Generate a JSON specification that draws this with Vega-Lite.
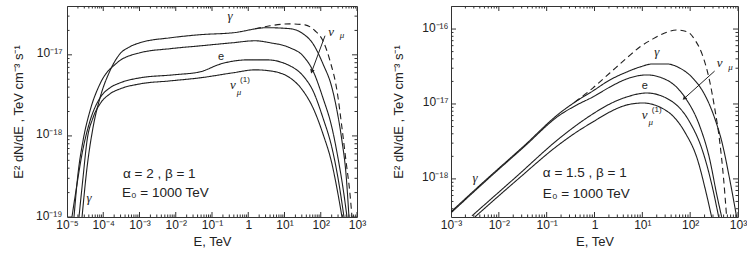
{
  "$schema": "https://vega.github.io/schema/vega-lite/v6.json",
  "background": "white",
  "padding": {"left": 11, "top": 5, "right": 0, "bottom": 0},
  "spacing": 94,
  "bounds": "flush",
  "config": {
    "view": {"stroke": "#333", "strokeWidth": 1},
    "axis": {"labelFont": "Liberation Sans", "titleFont": "Liberation Sans", "grid": false, "domain": false, "ticks": false, "labelColor": "#222", "titleColor": "#222", "titleFontWeight": "normal", "labelOverlap": false, "labelFlush": false}
  },
  "datasets": {
    "leftCurves": [
      {"series":"gamma","E":2.60e-5,"V":1e-19},{"series":"gamma","E":3.56e-5,"V":4.03e-19},{"series":"gamma","E":5.21e-5,"V":1.26e-18},{"series":"gamma","E":8.13e-5,"V":2.94e-18},{"series":"gamma","E":1.53e-4,"V":6.34e-18},{"series":"gamma","E":2.90e-4,"V":1.03e-17},{"series":"gamma","E":5.47e-4,"V":1.26e-17},{"series":"gamma","E":1.03e-3,"V":1.41e-17},{"series":"gamma","E":6.93e-3,"V":1.62e-17},{"series":"gamma","E":4.67e-2,"V":1.77e-17},{"series":"gamma","E":0.379,"V":1.87e-17},{"series":"gamma","E":3.29,"V":2.16e-17},{"series":"gamma","E":14.2,"V":2.10e-17},{"series":"gamma","E":32.4,"V":1.82e-17},{"series":"gamma","E":61.1,"V":1.37e-17},{"series":"gamma","E":115,"V":7.74e-18},{"series":"gamma","E":204,"V":3.92e-18},{"series":"gamma","E":281,"V":2.04e-18},{"series":"gamma","E":385,"V":8.67e-19},{"series":"gamma","E":497,"V":3.40e-19},{"series":"gamma","E":601,"V":1e-19},
      {"series":"numu","E":1.56e-5,"V":1e-19},{"series":"numu","E":2.01e-5,"V":3.40e-19},{"series":"numu","E":2.76e-5,"V":8.67e-19},{"series":"numu","E":4.31e-5,"V":2.04e-18},{"series":"numu","E":8.13e-5,"V":4.38e-18},{"series":"numu","E":2.39e-4,"V":7.96e-18},{"series":"numu","E":1.03e-3,"V":1.06e-17},{"series":"numu","E":6.93e-3,"V":1.19e-17},{"series":"numu","E":4.67e-2,"V":1.29e-17},{"series":"numu","E":0.379,"V":1.41e-17},{"series":"numu","E":1.53,"V":1.49e-17},{"series":"numu","E":3.98,"V":1.41e-17},{"series":"numu","E":14.2,"V":1.22e-17},{"series":"numu","E":32.4,"V":9.72e-18},{"series":"numu","E":61.1,"V":6.34e-18},{"series":"numu","E":115,"V":2.94e-18},{"series":"numu","E":204,"V":1.26e-18},{"series":"numu","E":299,"V":5.35e-19},{"series":"numu","E":411,"V":2.28e-19},{"series":"numu","E":530,"V":1e-19},
      {"series":"e","E":1.37e-5,"V":1e-19},{"series":"e","E":1.89e-5,"V":2.55e-19},{"series":"e","E":2.60e-5,"V":6.00e-19},{"series":"e","E":4.31e-5,"V":1.53e-18},{"series":"e","E":8.13e-5,"V":2.94e-18},{"series":"e","E":1.53e-4,"V":3.92e-18},{"series":"e","E":2.90e-4,"V":4.51e-18},{"series":"e","E":1.03e-3,"V":5.20e-18},{"series":"e","E":8.39e-3,"V":5.66e-18},{"series":"e","E":4.67e-2,"V":6.17e-18},{"series":"e","E":0.177,"V":7.74e-18},{"series":"e","E":1.0,"V":8.67e-18},{"series":"e","E":3.29,"V":8.67e-18},{"series":"e","E":14.2,"V":7.31e-18},{"series":"e","E":32.4,"V":5.51e-18},{"series":"e","E":61.1,"V":3.60e-18},{"series":"e","E":115,"V":1.67e-18},{"series":"e","E":204,"V":7.11e-19},{"series":"e","E":299,"V":3.03e-19},{"series":"e","E":438,"V":1e-19},
      {"series":"numu1","E":2.14e-5,"V":1e-19},{"series":"numu1","E":2.76e-5,"V":3.03e-19},{"series":"numu1","E":3.56e-5,"V":8.67e-19},{"series":"numu1","E":5.21e-5,"V":1.67e-18},{"series":"numu1","E":8.13e-5,"V":2.48e-18},{"series":"numu1","E":1.53e-4,"V":3.30e-18},{"series":"numu1","E":2.90e-4,"V":3.80e-18},{"series":"numu1","E":1.03e-3,"V":4.38e-18},{"series":"numu1","E":6.93e-3,"V":4.77e-18},{"series":"numu1","E":4.67e-2,"V":5.20e-18},{"series":"numu1","E":0.379,"V":6.00e-18},{"series":"numu1","E":1.53,"V":6.53e-18},{"series":"numu1","E":3.98,"V":6.34e-18},{"series":"numu1","E":14.2,"V":5.20e-18},{"series":"numu1","E":32.4,"V":3.60e-18},{"series":"numu1","E":61.1,"V":2.22e-18},{"series":"numu1","E":115,"V":1.06e-18},{"series":"numu1","E":204,"V":4.51e-19},{"series":"numu1","E":299,"V":1.92e-19},{"series":"numu1","E":385,"V":1e-19},
      {"series":"total","E":1.53,"V":2.10e-17},{"series":"total","E":3.98,"V":2.28e-17},{"series":"total","E":14.2,"V":2.41e-17},{"series":"total","E":36.8,"V":2.34e-17},{"series":"total","E":69.4,"V":1.98e-17},{"series":"total","E":115,"V":1.49e-17},{"series":"total","E":180,"V":8.43e-18},{"series":"total","E":281,"V":3.60e-18},{"series":"total","E":385,"V":1.26e-18},{"series":"total","E":497,"V":4.91e-19},{"series":"total","E":641,"V":1.92e-19},{"series":"total","E":728,"V":1e-19}
    ],
    "rightCurves": [
      {"series":"gamma","E":1e-3,"V":3.63e-19},{"series":"gamma","E":5.64e-3,"V":1.0e-18},{"series":"gamma","E":3.18e-2,"V":2.67e-18},{"series":"gamma","E":0.189,"V":7.59e-18},{"series":"gamma","E":0.427,"V":1.10e-17},{"series":"gamma","E":0.922,"V":1.49e-17},{"series":"gamma","E":2.09,"V":2.09e-17},{"series":"gamma","E":4.72,"V":2.67e-17},{"series":"gamma","E":8.83,"V":3.11e-17},{"series":"gamma","E":16.5,"V":3.42e-17},{"series":"gamma","E":32.3,"V":3.42e-17},{"series":"gamma","E":60.4,"V":3.02e-17},{"series":"gamma","E":113,"V":2.22e-17},{"series":"gamma","E":182,"V":1.49e-17},{"series":"gamma","E":255,"V":9.70e-18},{"series":"gamma","E":341,"V":5.93e-18},{"series":"gamma","E":455,"V":3.21e-18},{"series":"gamma","E":668,"V":1.0e-18},{"series":"gamma","E":935,"V":3.11e-19},
      {"series":"numu","E":1e-3,"V":3.52e-19},{"series":"numu","E":5.64e-3,"V":9.70e-19},{"series":"numu","E":3.18e-2,"V":2.59e-18},{"series":"numu","E":0.189,"V":7.13e-18},{"series":"numu","E":0.427,"V":9.70e-18},{"series":"numu","E":0.922,"V":1.24e-17},{"series":"numu","E":2.09,"V":1.68e-17},{"series":"numu","E":4.72,"V":2.16e-17},{"series":"numu","E":12.4,"V":2.44e-17},{"series":"numu","E":32.3,"V":2.09e-17},{"series":"numu","E":76.8,"V":1.24e-17},{"series":"numu","E":158,"V":5.09e-18},{"series":"numu","E":255,"V":1.85e-18},{"series":"numu","E":357,"V":6.31e-19},{"series":"numu","E":455,"V":3.11e-19},
      {"series":"e","E":2.74e-3,"V":3.21e-19},{"series":"e","E":2.28e-2,"V":1.06e-18},{"series":"e","E":0.189,"V":3.52e-18},{"series":"e","E":0.427,"V":5.25e-18},{"series":"e","E":0.922,"V":7.36e-18},{"series":"e","E":2.09,"V":1.0e-17},{"series":"e","E":4.72,"V":1.24e-17},{"series":"e","E":12.4,"V":1.40e-17},{"series":"e","E":37.3,"V":1.13e-17},{"series":"e","E":97.6,"V":5.75e-18},{"series":"e","E":182,"V":2.36e-18},{"series":"e","E":281,"V":8.58e-19},{"series":"e","E":394,"V":3.11e-19},
      {"series":"numu1","E":3.17e-3,"V":3.11e-19},{"series":"numu1","E":2.28e-2,"V":9.40e-19},{"series":"numu1","E":0.189,"V":2.93e-18},{"series":"numu1","E":0.427,"V":4.24e-18},{"series":"numu1","E":0.922,"V":5.75e-18},{"series":"numu1","E":2.09,"V":7.82e-18},{"series":"numu1","E":4.72,"V":9.70e-18},{"series":"numu1","E":10.2,"V":1.03e-17},{"series":"numu1","E":32.3,"V":8.07e-18},{"series":"numu1","E":76.8,"V":4.24e-18},{"series":"numu1","E":143,"V":1.79e-18},{"series":"numu1","E":211,"V":6.92e-19},{"series":"numu1","E":281,"V":3.11e-19},
      {"series":"total","E":0.388,"V":1.06e-17},{"series":"total","E":0.922,"V":1.63e-17},{"series":"total","E":2.09,"V":2.59e-17},{"series":"total","E":4.72,"V":4.11e-17},{"series":"total","E":8.83,"V":5.75e-17},{"series":"total","E":16.5,"V":7.36e-17},{"series":"total","E":29.4,"V":8.85e-17},{"series":"total","E":52.2,"V":9.70e-17},{"series":"total","E":88.7,"V":9.12e-17},{"series":"total","E":130,"V":6.92e-17},{"series":"total","E":174,"V":4.79e-17},{"series":"total","E":255,"V":2.03e-17},{"series":"total","E":325,"V":8.85e-18},{"series":"total","E":413,"V":3.21e-18},{"series":"total","E":500,"V":1.0e-18},{"series":"total","E":578,"V":3.11e-19}
    ],
    "leftTicksX": [
      {"E":1e-5,"kind":"major"},{"E":1e-4,"kind":"major"},{"E":1e-3,"kind":"major"},{"E":0.01,"kind":"major"},{"E":0.1,"kind":"major"},{"E":1,"kind":"major"},{"E":10,"kind":"major"},{"E":100,"kind":"major"},{"E":1000,"kind":"major"},
      {"E":2e-5,"kind":"minor"},{"E":3e-5,"kind":"minor"},{"E":4e-5,"kind":"minor"},{"E":5e-5,"kind":"minor"},{"E":6e-5,"kind":"minor"},{"E":7e-5,"kind":"minor"},{"E":8e-5,"kind":"minor"},{"E":9e-5,"kind":"minor"},
      {"E":2e-4,"kind":"minor"},{"E":3e-4,"kind":"minor"},{"E":4e-4,"kind":"minor"},{"E":5e-4,"kind":"minor"},{"E":6e-4,"kind":"minor"},{"E":7e-4,"kind":"minor"},{"E":8e-4,"kind":"minor"},{"E":9e-4,"kind":"minor"},
      {"E":2e-3,"kind":"minor"},{"E":3e-3,"kind":"minor"},{"E":4e-3,"kind":"minor"},{"E":5e-3,"kind":"minor"},{"E":6e-3,"kind":"minor"},{"E":7e-3,"kind":"minor"},{"E":8e-3,"kind":"minor"},{"E":9e-3,"kind":"minor"},
      {"E":0.02,"kind":"minor"},{"E":0.03,"kind":"minor"},{"E":0.04,"kind":"minor"},{"E":0.05,"kind":"minor"},{"E":0.06,"kind":"minor"},{"E":0.07,"kind":"minor"},{"E":0.08,"kind":"minor"},{"E":0.09,"kind":"minor"},
      {"E":0.2,"kind":"minor"},{"E":0.3,"kind":"minor"},{"E":0.4,"kind":"minor"},{"E":0.5,"kind":"minor"},{"E":0.6,"kind":"minor"},{"E":0.7,"kind":"minor"},{"E":0.8,"kind":"minor"},{"E":0.9,"kind":"minor"},
      {"E":2,"kind":"minor"},{"E":3,"kind":"minor"},{"E":4,"kind":"minor"},{"E":5,"kind":"minor"},{"E":6,"kind":"minor"},{"E":7,"kind":"minor"},{"E":8,"kind":"minor"},{"E":9,"kind":"minor"},
      {"E":20,"kind":"minor"},{"E":30,"kind":"minor"},{"E":40,"kind":"minor"},{"E":50,"kind":"minor"},{"E":60,"kind":"minor"},{"E":70,"kind":"minor"},{"E":80,"kind":"minor"},{"E":90,"kind":"minor"},
      {"E":200,"kind":"minor"},{"E":300,"kind":"minor"},{"E":400,"kind":"minor"},{"E":500,"kind":"minor"},{"E":600,"kind":"minor"},{"E":700,"kind":"minor"},{"E":800,"kind":"minor"},{"E":900,"kind":"minor"}
    ],
    "leftTicksY": [
      {"V":1e-19,"kind":"major"},{"V":1e-18,"kind":"major"},{"V":1e-17,"kind":"major"},
      {"V":2e-19,"kind":"minor"},{"V":3e-19,"kind":"minor"},{"V":4e-19,"kind":"minor"},{"V":5e-19,"kind":"minor"},{"V":6e-19,"kind":"minor"},{"V":7e-19,"kind":"minor"},{"V":8e-19,"kind":"minor"},{"V":9e-19,"kind":"minor"},
      {"V":2e-18,"kind":"minor"},{"V":3e-18,"kind":"minor"},{"V":4e-18,"kind":"minor"},{"V":5e-18,"kind":"minor"},{"V":6e-18,"kind":"minor"},{"V":7e-18,"kind":"minor"},{"V":8e-18,"kind":"minor"},{"V":9e-18,"kind":"minor"},
      {"V":2e-17,"kind":"minor"},{"V":3e-17,"kind":"minor"}
    ],
    "rightTicksX": [
      {"E":1e-3,"kind":"major"},{"E":0.01,"kind":"major"},{"E":0.1,"kind":"major"},{"E":1,"kind":"major"},{"E":10,"kind":"major"},{"E":100,"kind":"major"},{"E":1000,"kind":"major"},
      {"E":2e-3,"kind":"minor"},{"E":3e-3,"kind":"minor"},{"E":4e-3,"kind":"minor"},{"E":5e-3,"kind":"minor"},{"E":6e-3,"kind":"minor"},{"E":7e-3,"kind":"minor"},{"E":8e-3,"kind":"minor"},{"E":9e-3,"kind":"minor"},
      {"E":0.02,"kind":"minor"},{"E":0.03,"kind":"minor"},{"E":0.04,"kind":"minor"},{"E":0.05,"kind":"minor"},{"E":0.06,"kind":"minor"},{"E":0.07,"kind":"minor"},{"E":0.08,"kind":"minor"},{"E":0.09,"kind":"minor"},
      {"E":0.2,"kind":"minor"},{"E":0.3,"kind":"minor"},{"E":0.4,"kind":"minor"},{"E":0.5,"kind":"minor"},{"E":0.6,"kind":"minor"},{"E":0.7,"kind":"minor"},{"E":0.8,"kind":"minor"},{"E":0.9,"kind":"minor"},
      {"E":2,"kind":"minor"},{"E":3,"kind":"minor"},{"E":4,"kind":"minor"},{"E":5,"kind":"minor"},{"E":6,"kind":"minor"},{"E":7,"kind":"minor"},{"E":8,"kind":"minor"},{"E":9,"kind":"minor"},
      {"E":20,"kind":"minor"},{"E":30,"kind":"minor"},{"E":40,"kind":"minor"},{"E":50,"kind":"minor"},{"E":60,"kind":"minor"},{"E":70,"kind":"minor"},{"E":80,"kind":"minor"},{"E":90,"kind":"minor"},
      {"E":200,"kind":"minor"},{"E":300,"kind":"minor"},{"E":400,"kind":"minor"},{"E":500,"kind":"minor"},{"E":600,"kind":"minor"},{"E":700,"kind":"minor"},{"E":800,"kind":"minor"},{"E":900,"kind":"minor"}
    ],
    "rightTicksY": [
      {"V":1e-18,"kind":"major"},{"V":1e-17,"kind":"major"},{"V":1e-16,"kind":"major"},
      {"V":4e-19,"kind":"minor"},{"V":5e-19,"kind":"minor"},{"V":6e-19,"kind":"minor"},{"V":7e-19,"kind":"minor"},{"V":8e-19,"kind":"minor"},{"V":9e-19,"kind":"minor"},
      {"V":2e-18,"kind":"minor"},{"V":3e-18,"kind":"minor"},{"V":4e-18,"kind":"minor"},{"V":5e-18,"kind":"minor"},{"V":6e-18,"kind":"minor"},{"V":7e-18,"kind":"minor"},{"V":8e-18,"kind":"minor"},{"V":9e-18,"kind":"minor"},
      {"V":2e-17,"kind":"minor"},{"V":3e-17,"kind":"minor"},{"V":4e-17,"kind":"minor"},{"V":5e-17,"kind":"minor"},{"V":6e-17,"kind":"minor"},{"V":7e-17,"kind":"minor"},{"V":8e-17,"kind":"minor"},{"V":9e-17,"kind":"minor"}
    ],
    "leftLabels": [
      {"text":"γ","E":0.314,"V":3.03e-17,"role":"greek"},
      {"text":"e","E":0.177,"V":9.45e-18,"role":"plain"},
      {"text":"ν","E":0.379,"V":4.27e-18,"role":"greek"},
      {"text":"μ","E":0.556,"V":3.49e-18,"role":"sub"},
      {"text":"(1)","E":0.813,"V":4.91e-18,"role":"sup"},
      {"text":"ν","E":192,"V":1.92e-17,"role":"greek"},
      {"text":"μ","E":385,"V":1.77e-17,"role":"sub"},
      {"text":"γ","E":4.04e-5,"V":1.72e-19,"role":"greek"},
      {"text":"α = 2 , β = 1","E":3.51e-4,"V":3.40e-19,"role":"note"},
      {"text":"E₀ = 1000 TeV","E":3.29e-4,"V":1.98e-19,"role":"note"}
    ],
    "rightLabels": [
      {"text":"γ","E":20.0,"V":5.0e-17,"role":"greek"},
      {"text":"e","E":11.2,"V":1.72e-17,"role":"plain"},
      {"text":"ν","E":11.2,"V":7.13e-18,"role":"greek"},
      {"text":"μ","E":15.0,"V":5.75e-18,"role":"sub"},
      {"text":"(1)","E":20.0,"V":8.32e-18,"role":"sup"},
      {"text":"ν","E":413,"V":3.52e-17,"role":"greek"},
      {"text":"μ","E":701,"V":3.11e-17,"role":"sub"},
      {"text":"γ","E":3.17e-3,"V":1.03e-18,"role":"greek"},
      {"text":"α = 1.5 , β = 1","E":8.33e-2,"V":1.20e-18,"role":"note"},
      {"text":"E₀ = 1000 TeV","E":8.33e-2,"V":6.31e-19,"role":"note"}
    ],
    "leftArrow": [{"E":131,"V":1.72e-17,"E2":57.4,"V2":6.34e-18}],
    "rightArrow": [{"E":325,"V":2.75e-17,"E2":76.8,"V2":1.20e-17}]
  },
  "hconcat": [
    {
      "width": 290, "height": 211,
      "layer": [
        {"data": {"name": "leftCurves"},
         "mark": {"type": "line", "interpolate": "monotone", "clip": true, "stroke": "#1f1f1f", "strokeWidth": 1.1},
         "encoding": {
           "x": {"field": "E", "type": "quantitative", "scale": {"type": "log", "domain": [1e-5, 1000], "nice": false},
                 "axis": {"orient": "bottom", "values": [1e-5,1e-4,1e-3,0.01,0.1,1,10,100,1000],
                          "labelExpr": "round(log(datum.value)/LN10) == 0 ? '1' : '10' + (datum.value < 1 ? '⁻' : '') + (abs(round(log(datum.value)/LN10)) >= 10 ? ['⁰','¹','²','³','⁴','⁵','⁶','⁷','⁸','⁹'][floor(abs(round(log(datum.value)/LN10))/10)] : '') + ['⁰','¹','²','³','⁴','⁵','⁶','⁷','⁸','⁹'][abs(round(log(datum.value)/LN10)) % 10]",
                          "labelPadding": 2.5, "labelBaseline": "top", "labelFontSize": 12,
                          "title": "E, TeV", "titleY": 24, "titleBaseline": "middle", "titleFontSize": 13}},
           "y": {"field": "V", "type": "quantitative", "scale": {"type": "log", "domain": [1e-19, 4e-17], "nice": false},
                 "axis": {"orient": "left", "values": [1e-19,1e-18,1e-17], "labelOffset": -2,
                          "labelExpr": "round(log(datum.value)/LN10) == 0 ? '1' : '10' + (datum.value < 1 ? '⁻' : '') + (abs(round(log(datum.value)/LN10)) >= 10 ? ['⁰','¹','²','³','⁴','⁵','⁶','⁷','⁸','⁹'][floor(abs(round(log(datum.value)/LN10))/10)] : '') + ['⁰','¹','²','³','⁴','⁵','⁶','⁷','⁸','⁹'][abs(round(log(datum.value)/LN10)) % 10]",
                          "labelPadding": 5, "labelFontSize": 12,
                          "title": "E² dN/dE ,  TeV cm⁻³ s⁻¹", "titleX": -49, "titleBaseline": "middle", "titleFontSize": 13}},
           "strokeDash": {"field": "series", "type": "nominal", "scale": {"domain": ["gamma","numu","e","numu1","total"], "range": [[1,0],[1,0],[1,0],[1,0],[6,4]]}, "legend": null}
         }},
        {"data": {"name": "leftTicksX"},
         "mark": {"type": "tick", "orient": "vertical", "clip": true, "color": "#333", "thickness": 1, "opacity": 1},
         "encoding": {"x": {"field": "E", "type": "quantitative"}, "y": {"datum": 1e-19, "type": "quantitative"},
                      "size": {"field": "kind", "type": "ordinal", "scale": {"domain": ["major","minor"], "range": [10,5]}, "legend": null}}},
        {"data": {"name": "leftTicksX"},
         "mark": {"type": "tick", "orient": "vertical", "clip": true, "color": "#333", "thickness": 1, "opacity": 1},
         "encoding": {"x": {"field": "E", "type": "quantitative"}, "y": {"datum": 4e-17, "type": "quantitative"},
                      "size": {"field": "kind", "type": "ordinal", "scale": {"domain": ["major","minor"], "range": [10,5]}, "legend": null}}},
        {"data": {"name": "leftTicksY"},
         "mark": {"type": "tick", "orient": "horizontal", "clip": true, "color": "#333", "thickness": 1, "opacity": 1},
         "encoding": {"y": {"field": "V", "type": "quantitative"}, "x": {"datum": 1e-5, "type": "quantitative"},
                      "size": {"field": "kind", "type": "ordinal", "scale": {"domain": ["major","minor"], "range": [12,6]}, "legend": null}}},
        {"data": {"name": "leftTicksY"},
         "mark": {"type": "tick", "orient": "horizontal", "clip": true, "color": "#333", "thickness": 1, "opacity": 1},
         "encoding": {"y": {"field": "V", "type": "quantitative"}, "x": {"datum": 1000, "type": "quantitative"},
                      "size": {"field": "kind", "type": "ordinal", "scale": {"domain": ["major","minor"], "range": [12,6]}, "legend": null}}},
        {"data": {"name": "leftLabels"}, "transform": [{"filter": "datum.role == 'greek'"}],
         "mark": {"type": "text", "font": "Liberation Serif", "fontStyle": "italic", "fontSize": 13, "align": "center", "baseline": "middle", "color": "#222"},
         "encoding": {"x": {"field": "E", "type": "quantitative"}, "y": {"field": "V", "type": "quantitative"}, "text": {"field": "text"}}},
        {"data": {"name": "leftLabels"}, "transform": [{"filter": "datum.role == 'plain'"}],
         "mark": {"type": "text", "font": "Liberation Sans", "fontSize": 11, "align": "center", "baseline": "middle", "color": "#222"},
         "encoding": {"x": {"field": "E", "type": "quantitative"}, "y": {"field": "V", "type": "quantitative"}, "text": {"field": "text"}}},
        {"data": {"name": "leftLabels"}, "transform": [{"filter": "datum.role == 'sub'"}],
         "mark": {"type": "text", "font": "Liberation Serif", "fontStyle": "italic", "fontSize": 9, "align": "center", "baseline": "middle", "color": "#222"},
         "encoding": {"x": {"field": "E", "type": "quantitative"}, "y": {"field": "V", "type": "quantitative"}, "text": {"field": "text"}}},
        {"data": {"name": "leftLabels"}, "transform": [{"filter": "datum.role == 'sup'"}],
         "mark": {"type": "text", "font": "Liberation Sans", "fontSize": 8, "align": "center", "baseline": "middle", "color": "#222"},
         "encoding": {"x": {"field": "E", "type": "quantitative"}, "y": {"field": "V", "type": "quantitative"}, "text": {"field": "text"}}},
        {"data": {"name": "leftLabels"}, "transform": [{"filter": "datum.role == 'note'"}],
         "mark": {"type": "text", "font": "Liberation Sans", "fontSize": 13.5, "align": "left", "baseline": "middle", "color": "#222"},
         "encoding": {"x": {"field": "E", "type": "quantitative"}, "y": {"field": "V", "type": "quantitative"}, "text": {"field": "text"}}},
        {"data": {"name": "leftArrow"},
         "mark": {"type": "rule", "stroke": "#222", "strokeWidth": 1},
         "encoding": {"x": {"field": "E", "type": "quantitative"}, "y": {"field": "V", "type": "quantitative"}, "x2": {"field": "E2"}, "y2": {"field": "V2"}}},
        {"data": {"name": "leftArrow"},
         "mark": {"type": "point", "shape": "triangle", "angle": 199, "size": 22, "filled": true, "color": "#222", "opacity": 1},
         "encoding": {"x": {"field": "E2", "type": "quantitative"}, "y": {"field": "V2", "type": "quantitative"}}}
      ]
    },
    {
      "width": 287, "height": 211,
      "layer": [
        {"data": {"name": "rightCurves"},
         "mark": {"type": "line", "interpolate": "monotone", "clip": true, "stroke": "#1f1f1f", "strokeWidth": 1.1},
         "encoding": {
           "x": {"field": "E", "type": "quantitative", "scale": {"type": "log", "domain": [1e-3, 1000], "nice": false},
                 "axis": {"orient": "bottom", "values": [1e-3,0.01,0.1,1,10,100,1000],
                          "labelExpr": "round(log(datum.value)/LN10) == 0 ? '1' : '10' + (datum.value < 1 ? '⁻' : '') + (abs(round(log(datum.value)/LN10)) >= 10 ? ['⁰','¹','²','³','⁴','⁵','⁶','⁷','⁸','⁹'][floor(abs(round(log(datum.value)/LN10))/10)] : '') + ['⁰','¹','²','³','⁴','⁵','⁶','⁷','⁸','⁹'][abs(round(log(datum.value)/LN10)) % 10]",
                          "labelPadding": 2.5, "labelBaseline": "top", "labelFontSize": 12,
                          "title": "E, TeV", "titleY": 24, "titleBaseline": "middle", "titleFontSize": 13}},
           "y": {"field": "V", "type": "quantitative", "scale": {"type": "log", "domain": [3.1e-19, 2.03e-16], "nice": false},
                 "axis": {"orient": "left", "values": [1e-18,1e-17,1e-16], "labelOffset": -2,
                          "labelExpr": "round(log(datum.value)/LN10) == 0 ? '1' : '10' + (datum.value < 1 ? '⁻' : '') + (abs(round(log(datum.value)/LN10)) >= 10 ? ['⁰','¹','²','³','⁴','⁵','⁶','⁷','⁸','⁹'][floor(abs(round(log(datum.value)/LN10))/10)] : '') + ['⁰','¹','²','³','⁴','⁵','⁶','⁷','⁸','⁹'][abs(round(log(datum.value)/LN10)) % 10]",
                          "labelPadding": 3, "labelFontSize": 12,
                          "title": "E² dN/dE ,  TeV cm⁻³ s⁻¹", "titleX": -53, "titleBaseline": "middle", "titleFontSize": 13}},
           "strokeDash": {"field": "series", "type": "nominal", "scale": {"domain": ["gamma","numu","e","numu1","total"], "range": [[1,0],[1,0],[1,0],[1,0],[8,5]]}, "legend": null}
         }},
        {"data": {"name": "rightTicksX"},
         "mark": {"type": "tick", "orient": "vertical", "clip": true, "color": "#333", "thickness": 1, "opacity": 1},
         "encoding": {"x": {"field": "E", "type": "quantitative"}, "y": {"datum": 3.1e-19, "type": "quantitative"},
                      "size": {"field": "kind", "type": "ordinal", "scale": {"domain": ["major","minor"], "range": [10,5]}, "legend": null}}},
        {"data": {"name": "rightTicksX"},
         "mark": {"type": "tick", "orient": "vertical", "clip": true, "color": "#333", "thickness": 1, "opacity": 1},
         "encoding": {"x": {"field": "E", "type": "quantitative"}, "y": {"datum": 2.03e-16, "type": "quantitative"},
                      "size": {"field": "kind", "type": "ordinal", "scale": {"domain": ["major","minor"], "range": [10,5]}, "legend": null}}},
        {"data": {"name": "rightTicksY"},
         "mark": {"type": "tick", "orient": "horizontal", "clip": true, "color": "#333", "thickness": 1, "opacity": 1},
         "encoding": {"y": {"field": "V", "type": "quantitative"}, "x": {"datum": 1e-3, "type": "quantitative"},
                      "size": {"field": "kind", "type": "ordinal", "scale": {"domain": ["major","minor"], "range": [12,6]}, "legend": null}}},
        {"data": {"name": "rightTicksY"},
         "mark": {"type": "tick", "orient": "horizontal", "clip": true, "color": "#333", "thickness": 1, "opacity": 1},
         "encoding": {"y": {"field": "V", "type": "quantitative"}, "x": {"datum": 1000, "type": "quantitative"},
                      "size": {"field": "kind", "type": "ordinal", "scale": {"domain": ["major","minor"], "range": [12,6]}, "legend": null}}},
        {"data": {"name": "rightLabels"}, "transform": [{"filter": "datum.role == 'greek'"}],
         "mark": {"type": "text", "font": "Liberation Serif", "fontStyle": "italic", "fontSize": 13, "align": "center", "baseline": "middle", "color": "#222"},
         "encoding": {"x": {"field": "E", "type": "quantitative"}, "y": {"field": "V", "type": "quantitative"}, "text": {"field": "text"}}},
        {"data": {"name": "rightLabels"}, "transform": [{"filter": "datum.role == 'plain'"}],
         "mark": {"type": "text", "font": "Liberation Sans", "fontSize": 11, "align": "center", "baseline": "middle", "color": "#222"},
         "encoding": {"x": {"field": "E", "type": "quantitative"}, "y": {"field": "V", "type": "quantitative"}, "text": {"field": "text"}}},
        {"data": {"name": "rightLabels"}, "transform": [{"filter": "datum.role == 'sub'"}],
         "mark": {"type": "text", "font": "Liberation Serif", "fontStyle": "italic", "fontSize": 9, "align": "center", "baseline": "middle", "color": "#222"},
         "encoding": {"x": {"field": "E", "type": "quantitative"}, "y": {"field": "V", "type": "quantitative"}, "text": {"field": "text"}}},
        {"data": {"name": "rightLabels"}, "transform": [{"filter": "datum.role == 'sup'"}],
         "mark": {"type": "text", "font": "Liberation Sans", "fontSize": 8, "align": "center", "baseline": "middle", "color": "#222"},
         "encoding": {"x": {"field": "E", "type": "quantitative"}, "y": {"field": "V", "type": "quantitative"}, "text": {"field": "text"}}},
        {"data": {"name": "rightLabels"}, "transform": [{"filter": "datum.role == 'note'"}],
         "mark": {"type": "text", "font": "Liberation Sans", "fontSize": 13.5, "align": "left", "baseline": "middle", "color": "#222"},
         "encoding": {"x": {"field": "E", "type": "quantitative"}, "y": {"field": "V", "type": "quantitative"}, "text": {"field": "text"}}},
        {"data": {"name": "rightArrow"},
         "mark": {"type": "rule", "stroke": "#222", "strokeWidth": 1},
         "encoding": {"x": {"field": "E", "type": "quantitative"}, "y": {"field": "V", "type": "quantitative"}, "x2": {"field": "E2"}, "y2": {"field": "V2"}}},
        {"data": {"name": "rightArrow"},
         "mark": {"type": "point", "shape": "triangle", "angle": 228, "size": 22, "filled": true, "color": "#222", "opacity": 1},
         "encoding": {"x": {"field": "E2", "type": "quantitative"}, "y": {"field": "V2", "type": "quantitative"}}}
      ]
    }
  ]
}
